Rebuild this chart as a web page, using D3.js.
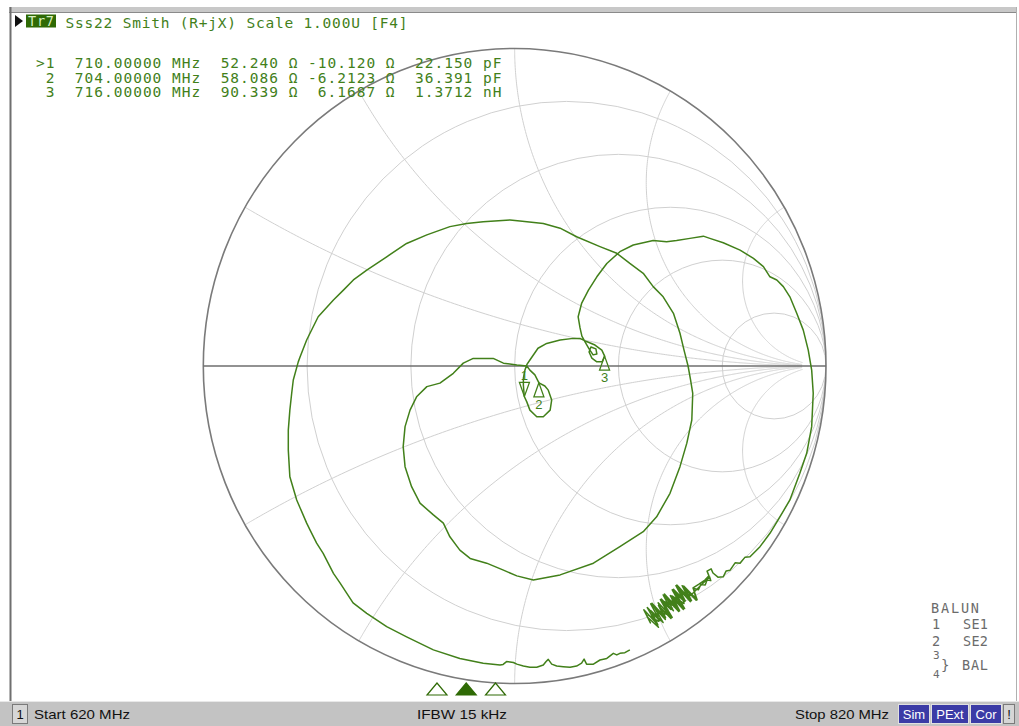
<!DOCTYPE html>
<html><head><meta charset="utf-8">
<script src="https://cdn.jsdelivr.net/npm/d3@7/dist/d3.min.js"></script>
<style>body{margin:0;background:#fff;overflow:hidden}</style>
</head><body>
<svg id="c" width="1019" height="726"></svg>
<script>
// ---------------- data ----------------
const startFreq = 620, stopFreq = 820;           // MHz
const z0 = 50;                                   // ohm
const resistanceCircles = [0.2, 0.5, 1, 2, 5];   // normalized r
const reactanceArcs = [0.268, 0.577, 1, 1.732, 3.732, -0.268, -0.577, -1, -1.732, -3.732];
const headerText = "Sss22 Smith (R+jX) Scale 1.000U [F4]";
const markerIds   = ["1", "2", "3"];
const markerFreq  = [710, 704, 716];             // MHz
const markerR     = [52.240, 58.086, 90.339];    // ohm
const markerX     = [-10.120, -6.2123, 6.1687];  // ohm
const markerLC    = ["22.150 pF", "36.391 pF", "1.3712 nH"];
const markerRows  = [">1  710.00000 MHz  52.240 \u03A9 -10.120 \u03A9  22.150 pF",
                     " 2  704.00000 MHz  58.086 \u03A9 -6.2123 \u03A9  36.391 pF",
                     " 3  716.00000 MHz  90.339 \u03A9  6.1687 \u03A9  1.3712 nH"];
const baluLines = ["BALUN", "SE1", "SE2", "BAL"];
// measured reflection coefficient (Re, Im), 620 -> 820 MHz
const traceGamma = [
[0.370,-0.894],[0.354,-0.903],[0.338,-0.905],[0.328,-0.910],[0.317,-0.905],[0.296,-0.921],[0.274,-0.926],[0.253,-0.939],[0.231,-0.939],[0.223,-0.923],[0.215,-0.936],[0.199,-0.945],[0.178,-0.949],[0.156,-0.947],[0.135,-0.945],[0.119,-0.939],[0.108,-0.924],[0.101,-0.931],[0.092,-0.942],[0.071,-0.949],[0.049,-0.949],[0.028,-0.945],[0.007,-0.939],[-0.004,-0.934],[-0.015,-0.932],[-0.026,-0.931],[-0.037,-0.940],[-0.047,-0.942],
[-0.101,-0.936],[-0.176,-0.921],[-0.261,-0.894],[-0.347,-0.853],[-0.411,-0.821],[-0.475,-0.779],[-0.519,-0.746],[-0.539,-0.716],[-0.561,-0.683],[-0.582,-0.653],[-0.615,-0.590],[-0.636,-0.558],[-0.657,-0.517],[-0.668,-0.495],[-0.689,-0.447],[-0.700,-0.422],[-0.722,-0.349],[-0.727,-0.265],[-0.727,-0.202],[-0.722,-0.139],[-0.716,-0.085],[-0.711,-0.044],[-0.695,0.013],[-0.689,0.029],[-0.668,0.082],[-0.631,0.155],[-0.582,0.208],[-0.550,0.239],[-0.518,0.271],[-0.475,0.302],[-0.411,0.344],[-0.347,0.386],[-0.282,0.413],[-0.208,0.439],[-0.154,0.449],[-0.101,0.454],[-0.015,0.460],[0.017,0.457],[0.092,0.449],[0.146,0.434],[0.199,0.407],[0.274,0.376],[0.328,0.355],[0.370,0.323],[0.413,0.292],[0.445,0.250],[0.477,0.218],[0.510,0.166],[0.531,0.103],[0.544,0.050],[0.557,0.000],[0.565,-0.044],[0.572,-0.086],[0.569,-0.170],[0.553,-0.243],[0.531,-0.317],[0.499,-0.401],[0.456,-0.475],[0.413,-0.522],[0.338,-0.569],[0.253,-0.621],[0.146,-0.658],[0.060,-0.674],[0.007,-0.661],[-0.036,-0.643],[-0.090,-0.621],[-0.143,-0.606],[-0.176,-0.580],[-0.208,-0.538],[-0.229,-0.495],[-0.261,-0.469],[-0.304,-0.432],[-0.331,-0.380],[-0.352,-0.317],[-0.358,-0.254],[-0.352,-0.191],[-0.336,-0.139],[-0.315,-0.097],[-0.282,-0.065],[-0.240,-0.054],[-0.197,-0.023],[-0.165,0.009],[-0.133,0.024],[-0.069,0.024],[-0.036,0.009],[0.007,0.003],[0.039,0.000],[0.049,-0.013],[0.065,-0.028],
[0.078,-0.053],
[0.097,-0.063],[0.108,-0.076],[0.119,-0.107],[0.114,-0.139],[0.092,-0.160],[0.071,-0.160],[0.049,-0.139],[0.039,-0.113],
[0.031,-0.096],
[0.028,-0.060],[0.028,-0.038],[0.033,-0.013],[0.040,0.006],[0.049,0.019],[0.075,0.056],[0.103,0.071],[0.146,0.082],[0.188,0.087],[0.210,0.087],[0.231,0.077],[0.258,0.066],[0.280,0.050],
[0.289,0.031],
[0.281,0.013],[0.264,0.013],[0.248,0.025],[0.239,0.044],[0.245,0.060],[0.261,0.054],[0.264,0.038],[0.252,0.035],[0.239,0.054],[0.226,0.076],[0.216,0.094],[0.210,0.120],[0.204,0.155],[0.215,0.197],[0.237,0.239],[0.264,0.281],[0.296,0.323],[0.338,0.360],[0.381,0.381],[0.445,0.395],[0.488,0.391],[0.520,0.395],[0.563,0.402],[0.606,0.409],[0.627,0.402],[0.670,0.388],[0.724,0.365],[0.767,0.339],[0.799,0.313],[0.820,0.281],[0.842,0.271],[0.863,0.250],[0.884,0.218],[0.906,0.166],[0.927,0.113],[0.943,0.050],[0.954,-0.013],[0.959,-0.086],[0.954,-0.191],[0.938,-0.275],[0.916,-0.338],[0.884,-0.422],[0.852,-0.475],[0.820,-0.527],[0.788,-0.569],[0.756,-0.601],[0.740,-0.602],[0.724,-0.621],[0.708,-0.620],[0.692,-0.643],[0.679,-0.646],[0.670,-0.664],
[0.653,-0.665],[0.637,-0.652],[0.631,-0.639],[0.618,-0.646],[0.624,-0.661],
[0.611,-0.674],[0.592,-0.687],[0.573,-0.699],
[0.586,-0.736],[0.543,-0.693],[0.568,-0.739],[0.521,-0.690],[0.548,-0.740],[0.510,-0.703],[0.546,-0.764],[0.507,-0.727],[0.530,-0.771],[0.481,-0.718],[0.510,-0.771],[0.471,-0.734],[0.506,-0.792],[0.461,-0.746],[0.485,-0.793],[0.441,-0.747],[0.477,-0.808],[0.438,-0.771],[0.460,-0.815],[0.415,-0.768],[0.436,-0.809],
[0.428,-0.792],[0.462,-0.823],[0.426,-0.761],[0.466,-0.802],[0.437,-0.749],[0.484,-0.798],[0.462,-0.754],[0.502,-0.795],[0.468,-0.736],[0.502,-0.767],[0.477,-0.721],[0.527,-0.773],[0.500,-0.723],[0.542,-0.767],[0.506,-0.705],[0.545,-0.742],[0.518,-0.692],[0.564,-0.742],[0.538,-0.692],[0.583,-0.738],
[0.575,-0.700],[0.590,-0.705],[0.598,-0.688],[0.612,-0.690],[0.618,-0.674],[0.630,-0.676],[0.626,-0.664],
[0.565,-0.723],[0.537,-0.711],[0.544,-0.748],[0.505,-0.724],[0.508,-0.754],[0.476,-0.740],[0.488,-0.782],[0.458,-0.771],[0.462,-0.804],[0.427,-0.783]
];
const statusTexts = ["Start 620 MHz", "IFBW 15 kHz", "Stop 820 MHz"];
const statusBadges = ["Sim", "PExt", "Cor"];

// ---------------- drawing ----------------
const svg = d3.select("#c");
const GREEN = "#42801a", GRID = "#d0d0d0", EDGE = "#7a7a7a";
const x = d3.scaleLinear().domain([-1, 1]).range([203.3, 826.0]);
const y = d3.scaleLinear().domain([-1, 1]).range([683.5, 48.5]);
const fx = d3.scaleLinear().domain([startFreq, stopFreq]).range([27.5, 1002.5]);
const sx = (x(1) - x(0)), sy = (y(0) - y(1));

// window frame
svg.append("rect").attr("x", 0).attr("y", 0).attr("width", 1019).attr("height", 726).attr("fill", "#fff");
svg.append("rect").attr("x", 9).attr("y", 7).attr("width", 1008).attr("height", 5).attr("fill", "#c8c8c8");
svg.append("line").attr("x1", 9).attr("x2", 1017).attr("y1", 12.5).attr("y2", 12.5).attr("stroke", "#8a8a8a");
svg.append("line").attr("x1", 10.5).attr("x2", 10.5).attr("y1", 7).attr("y2", 702).attr("stroke", "#6f6f6f").attr("stroke-width", 2);
svg.append("line").attr("x1", 1016.5).attr("x2", 1016.5).attr("y1", 7).attr("y2", 702).attr("stroke", "#b0b0b0").attr("stroke-width", 1);

const defs = svg.append("defs");
defs.append("clipPath").attr("id", "unit").append("ellipse")
  .attr("cx", x(0)).attr("cy", y(0)).attr("rx", sx).attr("ry", sy);

const grid = svg.append("g").attr("clip-path", "url(#unit)")
  .attr("fill", "none").attr("stroke", GRID).attr("stroke-width", 1);

// resistance circles
grid.selectAll("ellipse.r").data(resistanceCircles).join("ellipse")
  .attr("cx", r => x(r / (1 + r))).attr("cy", y(0))
  .attr("rx", r => sx / (1 + r)).attr("ry", r => sy / (1 + r));

// reactance arcs, traced along z = r + jx
const rSteps = d3.range(0, 400).map(i => Math.pow(i / 399, 2.2) * 25);
const gam = (r, xx) => {
  const dr = (r + 1) * (r + 1) + xx * xx;
  return [((r * r - 1) + xx * xx) / dr, (2 * xx) / dr];
};
const lineG = d3.line().x(d => x(d[0])).y(d => y(d[1]));
grid.selectAll("path.x").data(reactanceArcs).join("path")
  .attr("d", xx => lineG(rSteps.map(r => gam(r, xx))));

// outer boundary and real axis
svg.append("ellipse").attr("cx", x(0)).attr("cy", y(0)).attr("rx", sx).attr("ry", sy)
  .attr("fill", "none").attr("stroke", EDGE).attr("stroke-width", 1.6);
svg.append("line").attr("x1", x(-1)).attr("x2", x(1)).attr("y1", y(0)).attr("y2", y(0))
  .attr("stroke", "#6e6e6e").attr("stroke-width", 1.6);

// trace
svg.append("path").attr("d", lineG(traceGamma))
  .attr("fill", "none").attr("stroke", GREEN).attr("stroke-width", 1.5)
  .attr("stroke-linejoin", "round");

// markers
const mg = svg.append("g").attr("fill", "none").attr("stroke", GREEN).attr("stroke-width", 1.3);
markerIds.forEach((id, i) => {
  const g = gam(markerR[i] / z0, markerX[i] / z0);
  const px = x(g[0]), py = y(g[1]);
  if (i === 0) {
    mg.append("path").attr("d", `M${px},${py}L${px - 5},${py - 14}L${px + 5},${py - 14}Z`);
    svg.append("text").attr("x", px).attr("y", py - 16).attr("text-anchor", "middle")
      .attr("font-family", "Liberation Sans").attr("font-size", 13).attr("fill", GREEN).text(id);
  } else {
    mg.append("path").attr("d", `M${px},${py}L${px - 5},${py + 14}L${px + 5},${py + 14}Z`);
    svg.append("text").attr("x", px).attr("y", py + 26).attr("text-anchor", "middle")
      .attr("font-family", "Liberation Sans").attr("font-size", 13).attr("fill", GREEN).text(id);
  }
  // stimulus-axis marker triangles
  svg.append("path")
    .attr("d", `M${fx(markerFreq[i])},683L${fx(markerFreq[i]) - 10},695L${fx(markerFreq[i]) + 10},695Z`)
    .attr("fill", i === 0 ? "#2f6a05" : "#fff").attr("stroke", "#2f6a05").attr("stroke-width", 1.2);
});

// header
svg.append("path").attr("d", "M15,15L15,27L23,21Z").attr("fill", "#111");
svg.append("rect").attr("x", 26).attr("y", 14.5).attr("width", 30).attr("height", 13).attr("fill", "#2f6a05");
svg.append("text").attr("x", 28).attr("y", 26).attr("font-family", "DejaVu Sans Mono").attr("font-size", 13.5)
  .attr("fill", "#d8f0c0").attr("textLength", 26).text("Tr7");
svg.append("text").attr("x", 65.5).attr("y", 28).attr("font-family", "DejaVu Sans Mono").attr("font-size", 14.5)
  .attr("fill", GREEN).attr("textLength", 342).attr("xml:space", "preserve").style("white-space", "pre").text(headerText);
markerRows.forEach((t, i) => {
  svg.append("text").attr("x", 36).attr("y", 68 + i * 14.5).attr("font-family", "DejaVu Sans Mono").attr("font-size", 14.5)
    .attr("fill", GREEN).attr("textLength", 465.5).attr("xml:space", "preserve").style("white-space", "pre").text(t);
});

// balun legend
const bl = svg.append("g").attr("font-family", "DejaVu Sans Mono").attr("font-size", 13.5).attr("fill", "#6b6b6b");
bl.append("text").attr("x", 931).attr("y", 613).attr("textLength", 48).text(baluLines[0]);
bl.append("text").attr("x", 932).attr("y", 629).text("1");
bl.append("text").attr("x", 963).attr("y", 629).attr("textLength", 25).text(baluLines[1]);
bl.append("text").attr("x", 932).attr("y", 646).text("2");
bl.append("text").attr("x", 963).attr("y", 646).attr("textLength", 25).text(baluLines[2]);
bl.append("text").attr("x", 933).attr("y", 659).attr("font-size", 11).text("3");
bl.append("text").attr("x", 933).attr("y", 678).attr("font-size", 11).text("4");
bl.append("text").attr("x", 941).attr("y", 670).attr("font-size", 14).text("}");
bl.append("text").attr("x", 962).attr("y", 670).attr("textLength", 26).text(baluLines[3]);

// status bar
svg.append("rect").attr("x", 0).attr("y", 701).attr("width", 1019).attr("height", 25).attr("fill", "#c3c3c3");
svg.append("line").attr("x1", 0).attr("x2", 1019).attr("y1", 701.5).attr("y2", 701.5).attr("stroke", "#e8e8e8");
svg.append("rect").attr("x", 12.5).attr("y", 704.5).attr("width", 15).attr("height", 19).attr("fill", "#d6d6d6").attr("stroke", "#7a7a7a");
const st = svg.append("g").attr("font-family", "Liberation Sans").attr("font-size", 13).attr("fill", "#111");
st.append("text").attr("x", 20).attr("y", 719).attr("text-anchor", "middle").text("1");
st.append("text").attr("x", 34).attr("y", 719).attr("textLength", 96).attr("lengthAdjust", "spacingAndGlyphs").text(statusTexts[0]);
st.append("text").attr("x", 417).attr("y", 719).attr("textLength", 90).attr("lengthAdjust", "spacingAndGlyphs").text(statusTexts[1]);
st.append("text").attr("x", 795).attr("y", 719).attr("textLength", 94).attr("lengthAdjust", "spacingAndGlyphs").text(statusTexts[2]);
const badgeX = [898, 931, 970], badgeW = [31, 37, 31];
statusBadges.forEach((b, i) => {
  svg.append("rect").attr("x", badgeX[i] + 0.5).attr("y", 704.5).attr("width", badgeW[i]).attr("height", 19)
    .attr("fill", "#3b3ba6").attr("stroke", "#e0e0e0");
  svg.append("text").attr("x", badgeX[i] + badgeW[i] / 2 + 0.5).attr("y", 719).attr("text-anchor", "middle")
    .attr("font-family", "Liberation Sans").attr("font-size", 13).attr("fill", "#fff").text(b);
});
svg.append("rect").attr("x", 1003.5).attr("y", 704.5).attr("width", 11).attr("height", 19).attr("fill", "#d6d6d6").attr("stroke", "#7a7a7a");
svg.append("text").attr("x", 1009).attr("y", 719).attr("text-anchor", "middle").attr("font-family", "Liberation Sans")
  .attr("font-size", 13).attr("fill", "#111").text("!");
</script>
</body></html>
